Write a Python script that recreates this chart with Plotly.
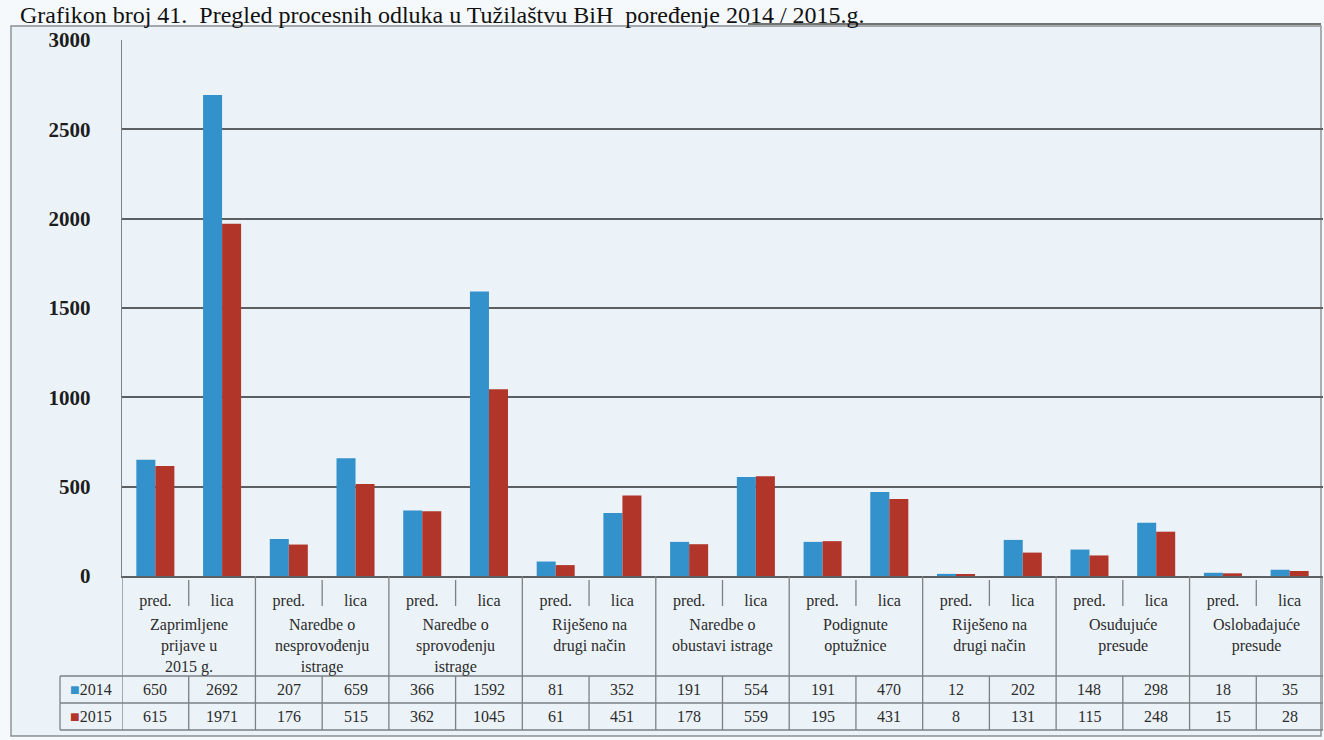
import plotly.graph_objects as go

# ---- data -------------------------------------------------------------
tick_labels = ["pred.", "lica"] * 9
group_names = [
    "Zaprimljene<br>prijave u<br>2015 g.",
    "Naredbe o<br>nesprovođenju<br>istrage",
    "Naredbe o<br>sprovođenju<br>istrage",
    "Riješeno na<br>drugi način",
    "Naredbe o<br>obustavi istrage",
    "Podignute<br>optužnice",
    "Riješeno na<br>drugi način",
    "Osuđujuće<br>presude",
    "Oslobađajuće<br>presude",
]
series_names = ["2014", "2015"]
values_2014 = [650, 2692, 207, 659, 366, 1592, 81, 352, 191, 554, 191, 470, 12, 202, 148, 298, 18, 35]
values_2015 = [615, 1971, 176, 515, 362, 1045, 61, 451, 178, 559, 195, 431, 8, 131, 115, 248, 15, 28]
y_ticks = [0, 500, 1000, 1500, 2000, 2500, 3000]
title_text = "Grafikon broj 41.  Pregled procesnih odluka u Tužilaštvu BiH  poređenje 2014 / 2015.g."

# ---- style ------------------------------------------------------------
BLUE = "#3391cb"
RED = "#b2352a"
SERIF = "Liberation Serif"
GRID = "#5c5f62"
TABLE = "#7d8184"
TXT = "#2b2b2b"
W, H = 1324, 740
L, R = 122, 1323          # plot area, pixels
T, B = 40, 576


def px(X):
    return (X - L) / (R - L)


def py(Y):
    return (B - Y) / (B - T)


xs = list(range(len(tick_labels)))

fig = go.Figure()
fig.add_bar(x=xs, y=values_2014, name=series_names[0], marker=dict(color=BLUE, line_width=0))
fig.add_bar(x=xs, y=values_2015, name=series_names[1], marker=dict(color=RED, line_width=0))

fig.update_layout(
    width=W, height=H,
    margin=dict(l=L, r=W - R, t=T, b=H - B, pad=0),
    barmode="group", bargap=0.43, bargroupgap=0,
    showlegend=False,
    paper_bgcolor="#f6f9fb",
    plot_bgcolor="#f5f8fb",
    font=dict(family=SERIF, color=TXT),
)
fig.update_yaxes(
    range=[0, 3000], tickvals=y_ticks, ticks="",
    tickmode="array", ticktext=[f"<b>{v}</b>" for v in y_ticks],
    showgrid=True, gridcolor=GRID, gridwidth=1.6,
    zeroline=False, showline=True, linecolor=TABLE, linewidth=1.4,
    tickfont=dict(family=SERIF, size=21, color="#1d1d1d"),
    ticklabelstandoff=26,
)
fig.update_xaxes(
    range=[-0.5, len(xs) - 0.5], tickvals=xs, ticktext=tick_labels, ticks="",
    showgrid=False, zeroline=False, showline=True, linecolor=GRID, linewidth=1.6,
    tickfont=dict(family=SERIF, size=16, color=TXT),
    ticklabelstandoff=9,
)

shapes = []


def line(x0, y0, x1, y1, xref="paper", color=TABLE, width=1.3):
    shapes.append(dict(type="line", xref=xref, yref="paper", x0=x0, y0=y0, x1=x1, y1=y1,
                       line=dict(color=color, width=width)))


# outer frame
shapes.append(dict(type="rect", xref="paper", yref="paper",
                   x0=px(11), y0=py(26), x1=px(1321), y1=py(736),
                   line=dict(color="#8a8e92", width=1.4), fillcolor="#ecf3f8", layer="below"))
# heading underline
line(px(748), py(24), px(1321), py(24), color="#444", width=1.3)

# data table rows
row_top, row_mid, row_bot = 676, 703, 730
for yy in (row_top, row_mid, row_bot):
    line(px(60), py(yy), 1, py(yy))
line(px(60), py(row_top), px(60), py(row_bot))
# group borders and pred/lica dividers
for k in range(len(group_names) + 1):
    xb = 2 * k - 0.5
    line(xb, py(B), xb, py(row_bot), xref="x")
for k in range(len(group_names)):
    xm = 2 * k + 0.5
    line(xm, py(B + 4), xm, py(B + 30), xref="x")
    line(xm, py(row_top), xm, py(row_bot), xref="x")

annotations = []
# page heading
annotations.append(dict(text=title_text, xref="paper", yref="paper", x=px(18), y=py(0),
                        xanchor="left", yanchor="top", showarrow=False,
                        font=dict(family=SERIF, size=24, color="#111")))
# category group names
for k, name in enumerate(group_names):
    annotations.append(dict(text=name, xref="x", yref="paper", x=2 * k + 0.5, y=py(614),
                            xanchor="center", yanchor="top", showarrow=False, align="center",
                            font=dict(family=SERIF, size=16, color=TXT)))
# table values
for vals, yy, color, name in ((values_2014, (row_top + row_mid) / 2, BLUE, series_names[0]),
                              (values_2015, (row_mid + row_bot) / 2, RED, series_names[1])):
    annotations.append(dict(text=f'<span style="color:{color}">■</span>{name}',
                            xref="paper", yref="paper", x=px(91), y=py(yy),
                            xanchor="center", yanchor="middle", showarrow=False,
                            font=dict(family=SERIF, size=16, color=TXT)))
    for xi, v in zip(xs, vals):
        annotations.append(dict(text=str(v), xref="x", yref="paper", x=xi, y=py(yy),
                                xanchor="center", yanchor="middle", showarrow=False,
                                font=dict(family=SERIF, size=16, color=TXT)))

fig.update_layout(shapes=shapes, annotations=annotations)
fig.write_html("out.html")
